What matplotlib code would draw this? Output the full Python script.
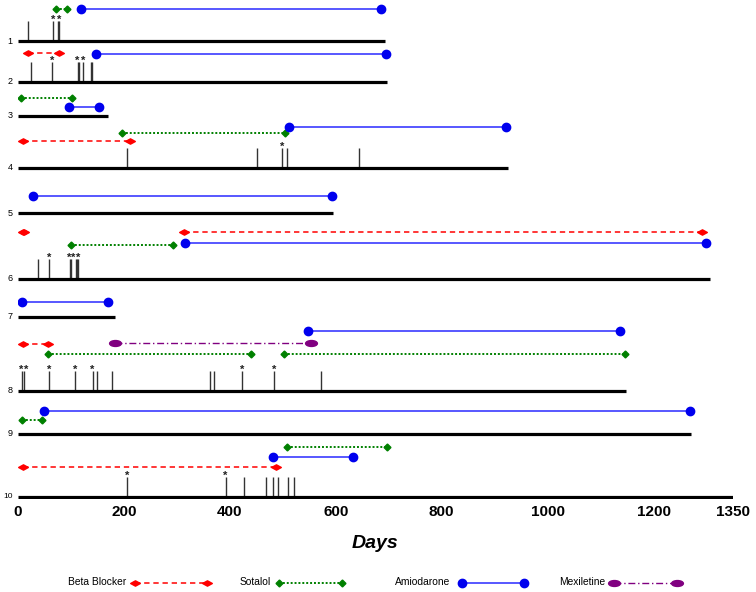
import numpy as np
import matplotlib.pyplot as plt
import matplotlib.transforms as mtransforms
from matplotlib.path import Path
from matplotlib.lines import Line2D

plt.rcParams['font.family'] = ['Liberation Sans', 'DejaVu Sans']

# ---- data (days) ----
patients = ['1', '2', '3', '4', '5', '6', '7', '8', '9', '10']
follow_up = [692, 697, 169, 926, 594, 1306, 183, 1148, 1271, 1350]

events = [
    [18, 66, 76, 78],
    [25, 65, 113, 115, 123, 138, 140],
    [],
    [205, 452, 499, 507, 643],
    [],
    [37, 59, 98, 101, 109, 111, 113],
    [],
    [8, 11, 58, 108, 141, 150, 178, 362, 370, 423, 484, 573],
    [],
    [206, 392, 427, 469, 482, 491, 510, 521],
]
asterisks = [
    [66, 77],
    [65, 112, 123],
    [],
    [499],
    [],
    [59, 97, 105, 113],
    [],
    [6, 15, 58, 108, 141, 423, 484],
    [],
    [206, 392],
]

drugs = ['Beta Blocker', 'Sotalol', 'Amiodarone', 'Mexiletine']

# drug courses: patient row, drug, start day, end day
course_row = [0, 0,
              1, 1,
              2, 2,
              3, 3, 3,
              4,
              5, 5, 5, 5,
              6,
              7, 7, 7, 7, 7,
              8, 8,
              9, 9, 9]
course_drug = ['Sotalol', 'Amiodarone',
               'Beta Blocker', 'Amiodarone',
               'Sotalol', 'Amiodarone',
               'Beta Blocker', 'Sotalol', 'Amiodarone',
               'Amiodarone',
               'Beta Blocker', 'Beta Blocker', 'Sotalol', 'Amiodarone',
               'Amiodarone',
               'Beta Blocker', 'Mexiletine', 'Sotalol', 'Sotalol', 'Amiodarone',
               'Sotalol', 'Amiodarone',
               'Beta Blocker', 'Amiodarone', 'Sotalol']
course_start = [72, 119,
                18, 147,
                6, 96,
                9, 197, 511,
                28,
                10, 314, 100, 316,
                8,
                10, 183, 57, 502, 547,
                8, 49,
                9, 482, 508]
course_end = [92, 685,
              77, 694,
              102, 152,
              211, 504, 921,
              592,
              11, 1292, 293, 1299,
              170,
              57, 554, 439, 1147, 1136,
              45, 1268,
              487, 633, 696]

# ---- layout (pixel units from the top of the plot) ----
row_base = [41, 82, 116, 168, 213, 279, 317, 391, 434, 497]
course_lift = [31.5, 31.5,
               29, 28,
               18, 9,
               27, 34.5, 41,
               17,
               47, 47, 34, 35.5,
               15,
               47, 48, 37, 37, 60,
               14, 23,
               30, 40, 50]
spike_h = 20

hdiamond = Path([(-1, 0), (0, 0.55), (1, 0), (0, -0.55), (-1, 0)],
                [Path.MOVETO, Path.LINETO, Path.LINETO, Path.LINETO, Path.CLOSEPOLY])
ellipse = Path.unit_circle().transformed(mtransforms.Affine2D().scale(1, 0.5))

styles = {
    'Beta Blocker': dict(color='red', ls=(0, (3.5, 2.5)), lw=1.1, marker=hdiamond,
                         ms=7, mfc='red', mec='red'),
    'Sotalol': dict(color='#008000', ls=(0, (1, 1)), lw=1.4, marker='D',
                    ms=3.5, mfc='#008000', mec='#008000'),
    'Amiodarone': dict(color='#3b3bff', ls='-', lw=1.2, marker='o',
                       ms=6, mfc='#0000ee', mec='#0000ee'),
    'Mexiletine': dict(color='#800080', ls=(0, (5, 2, 1, 2)), lw=1.0, marker=ellipse,
                       ms=8.5, mfc='#800080', mec='#800080'),
}

W, H = 756, 592
fig = plt.figure(figsize=(W / 100, H / 100), dpi=100)
ax = fig.add_axes([18 / W, (H - 499) / H, 715 / W, 499 / H])
ax.set_xlim(0, 1350)
ax.set_ylim(499, 0)

for i, name in enumerate(patients):
    base = row_base[i]
    ax.plot([0, follow_up[i]], [base, base], color='black', lw=2.3,
            solid_capstyle='butt', zorder=3)
    if events[i]:
        ax.vlines(events[i], base - spike_h, base, color='#333333', lw=1.0, zorder=2)
    for d in asterisks[i]:
        ax.text(d, base - spike_h + 1.5, '*', ha='center', va='baseline',
                fontsize=8, fontweight='bold', color='#222222')
    ax.annotate(name, xy=(0, base), xytext=(-4, 0), textcoords='offset points',
                ha='right', va='center', fontsize=6.5 if name != '10' else 6,
                annotation_clip=False)

for r, drug, s, e, lift in zip(course_row, course_drug, course_start, course_end, course_lift):
    y = row_base[r] - lift
    ax.plot([s, e], [y, y], **styles[drug], zorder=4)

for sp in ax.spines.values():
    sp.set_visible(False)
ax.set_yticks([])
ticks = [0, 200, 400, 600, 800, 1000, 1200, 1350]
ax.set_xticks(ticks)
ax.set_xticklabels([str(t) for t in ticks], fontsize=11, fontweight='bold')
ax.tick_params(axis='x', length=0, pad=4)
ax.set_xlabel('Days', fontsize=14, fontweight='bold', fontstyle='italic', labelpad=12)

# legend drawn by hand along the bottom
leg_text_x = [68, 240, 395, 559]
leg_line_x = [(135, 207), (279, 342), (462, 524), (614, 677)]
leg_y = 583
for drug, tx, (l0, l1) in zip(drugs, leg_text_x, leg_line_x):
    fig.text(tx / W, 1 - (leg_y - 1) / H, drug, ha='left', va='center', fontsize=7.4)
    fig.add_artist(Line2D([l0 / W, l1 / W], [1 - leg_y / H, 1 - leg_y / H],
                          transform=fig.transFigure, **styles[drug]))

fig.savefig('out.png', dpi=100)
